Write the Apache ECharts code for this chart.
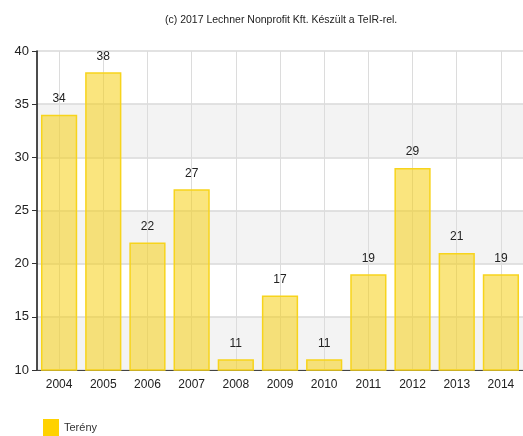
<!DOCTYPE html>
<html><head><meta charset="utf-8">
<script src="https://cdn.jsdelivr.net/npm/echarts@6/dist/echarts.min.js"></script>
<style>html,body{margin:0;padding:0;background:#fff}#c{width:523px;height:436px}</style>
</head><body><div id="c"></div>
<script>
const categories = ['2004','2005','2006','2007','2008','2009','2010','2011','2012','2013','2014'];
const values = [34,38,22,27,11,17,11,19,29,21,19];
const seriesName = 'Terény';
const titleText = '(c) 2017 Lechner Nonprofit Kft. Készült a TeIR-rel.';
const yMin = 10, yMax = 40, yInterval = 5;

const chart = echarts.init(document.getElementById('c'), null, {renderer:'canvas'});
const font = 'Liberation Sans, Arial, sans-serif';
chart.setOption({
  animation:false,
  title:{text:titleText,left:160,top:10,textStyle:{fontSize:10.5,fontWeight:'normal',color:'#222',fontFamily:font}},
  legend:{left:38,top:414,itemWidth:16,itemHeight:17,icon:'rect',itemGap:4,
    itemStyle:{color:'#ffd200',borderWidth:0},
    textStyle:{fontSize:11,color:'#333',fontFamily:font},data:[seriesName]},
  grid:{left:37,right:-2,top:51,bottom:66,containLabel:false},
  xAxis:{type:'category',data:categories,boundaryGap:true,
    axisLine:{lineStyle:{color:'#444',width:1}},
    axisTick:{alignWithLabel:true,length:5,lineStyle:{color:'#333'}},
    axisLabel:{fontSize:12,color:'#222',margin:9,fontFamily:font},
    splitLine:{show:true,alignWithLabel:true,lineStyle:{color:'#dcdcdc',width:1}}},
  yAxis:{type:'value',min:yMin,max:yMax,interval:yInterval,
    axisLine:{show:true,lineStyle:{color:'#111',width:1.5}},
    axisTick:{show:true,length:5,lineStyle:{color:'#333'}},
    axisLabel:{fontSize:13,color:'#222',margin:8,fontFamily:font},
    splitLine:{lineStyle:{color:'#d8d8d8',width:1.5}},
    splitArea:{show:true,areaStyle:{color:['#f3f3f3','#ffffff']}}},
  series:[{name:seriesName,type:'bar',data:values,barCategoryGap:'18%',
    itemStyle:{color:'rgba(246,208,20,0.55)',borderColor:'#f7d41c',borderWidth:1.5},
    label:{show:true,position:'top',distance:10,fontSize:12,color:'#222',fontFamily:font},
    z:2}]
});
</script></body></html>
